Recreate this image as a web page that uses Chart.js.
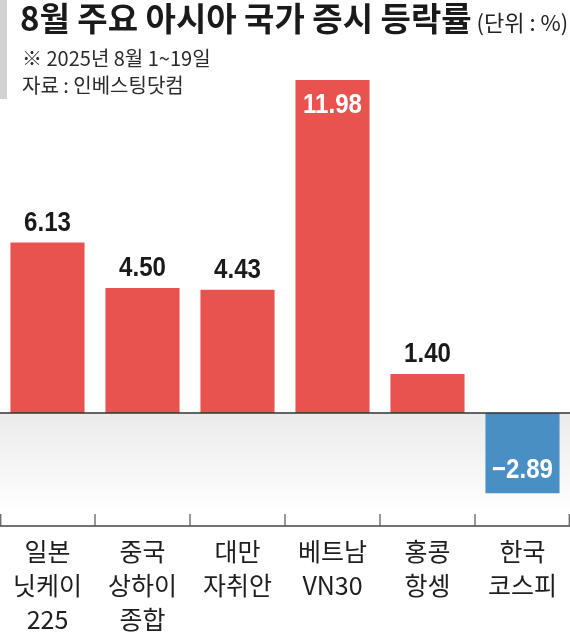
<!DOCTYPE html>
<html>
<head>
<meta charset="utf-8">
<script src="https://cdn.jsdelivr.net/npm/chart.js@4/dist/chart.umd.min.js"></script>
<style>
html,body{margin:0;padding:0;background:#fff;}
#wrap{width:570px;height:640px;position:relative;}
</style>
</head>
<body>
<div id="wrap"><canvas id="c" width="570" height="640"></canvas></div>
<script>
const categories = [
  ['일본', '닛케이', '225'],
  ['중국', '상하이', '종합'],
  ['대만', '자취안'],
  ['베트남', 'VN30'],
  ['홍콩', '항셍'],
  ['한국', '코스피']
];
const values = [6.13, 4.50, 4.43, 11.98, 1.40, -2.89];
const valueLabels = ['6.13', '4.50', '4.43', '11.98', '1.40', '−2.89'];
const titleText = '8월 주요 아시아 국가 증시 등락률';
const unitText = '(단위 : %)';
const noteText = '※ 2025년 8월 1~19일';
const sourceText = '자료 : 인베스팅닷컴';

const RED = '#e8534f';
const BLUE = '#4a8fc4';
const KFONT = '"Noto Sans CJK KR", "Noto Sans", sans-serif';

const decor = {
  id: 'decor',
  beforeDraw(chart) {
    const ctx = chart.ctx;
    ctx.save();
    ctx.fillStyle = '#fff';
    ctx.fillRect(0, 0, chart.width, chart.height);
    // left gray strip
    ctx.fillStyle = '#d2d2d2';
    ctx.fillRect(0, 0, 7, 99);
    // title
    ctx.fillStyle = '#1a1a1a';
    ctx.textBaseline = 'alphabetic';
    ctx.font = 'bold 33px ' + KFONT;
    ctx.fillText(titleText, 20, 31);
    const tw = ctx.measureText(titleText).width;
    ctx.font = '22px ' + KFONT;
    ctx.fillStyle = '#222';
    ctx.fillText(unitText, 20 + tw + 5, 31);
    ctx.font = '20px ' + KFONT;
    ctx.fillStyle = '#2a2a2a';
    ctx.fillText(noteText, 22, 66);
    ctx.fillText(sourceText, 22, 93);
    ctx.restore();
  },
  beforeDatasetsDraw(chart) {
    const ctx = chart.ctx;
    const area = chart.chartArea;
    const y0 = chart.scales.y.getPixelForValue(0);
    const yEnd = area.bottom - 12;
    const g = ctx.createLinearGradient(0, y0, 0, yEnd);
    g.addColorStop(0, '#ebebeb');
    g.addColorStop(1, 'rgba(255,255,255,1)');
    ctx.save();
    ctx.fillStyle = g;
    ctx.fillRect(area.left, y0, area.right - area.left, yEnd - y0);
    ctx.restore();
  },
  afterDatasetsDraw(chart) {
    const ctx = chart.ctx;
    const area = chart.chartArea;
    const xs = chart.scales.x;
    const y0 = chart.scales.y.getPixelForValue(0);
    ctx.save();
    // zero line
    ctx.strokeStyle = '#333';
    ctx.lineWidth = 1.5;
    ctx.beginPath();
    ctx.moveTo(area.left, y0);
    ctx.lineTo(area.right, y0);
    ctx.stroke();
    // bottom axis line
    ctx.strokeStyle = '#444';
    ctx.lineWidth = 1.5;
    ctx.beginPath();
    ctx.moveTo(area.left, area.bottom);
    ctx.lineTo(area.right, area.bottom);
    ctx.stroke();
    // tick marks at category boundaries
    ctx.lineWidth = 1.2;
    ctx.strokeStyle = '#555';
    const n = categories.length;
    const w = n > 1 ? (xs.getPixelForValue(1) - xs.getPixelForValue(0)) : (area.right - area.left);
    for (let i = 0; i <= n; i++) {
      let x = i < n ? xs.getPixelForValue(i) - w / 2 : xs.getPixelForValue(n - 1) + w / 2;
      x = Math.min(Math.max(x, area.left + 0.75), area.right - 0.75);
      ctx.beginPath();
      ctx.moveTo(x, area.bottom - 12);
      ctx.lineTo(x, area.bottom);
      ctx.stroke();
    }
    // value labels
    const meta = chart.getDatasetMeta(0);
    ctx.font = 'bold 28px "Liberation Sans", Arial, sans-serif';
    ctx.textAlign = 'center';
    ctx.textBaseline = 'alphabetic';
    const maxV = Math.max(...values);
    meta.data.forEach((bar, i) => {
      const v = values[i];
      let y, color;
      if (v < 0) {
        y = bar.y - 15;
        color = '#fff';
      } else if (v === maxV) {
        y = bar.y + 33;
        color = '#fff';
      } else {
        y = bar.y - 12;
        color = '#1a1a1a';
      }
      ctx.save();
      ctx.fillStyle = color;
      ctx.translate(bar.x, y);
      ctx.scale(0.86, 1);
      ctx.fillText(valueLabels[i], 0, 0);
      ctx.restore();
    });
    ctx.restore();
  }
};

new Chart(document.getElementById('c'), {
  type: 'bar',
  data: {
    labels: categories,
    datasets: [{
      data: values,
      backgroundColor: values.map(v => v < 0 ? BLUE : RED),
      borderWidth: 0,
      barPercentage: 0.78,
      categoryPercentage: 1
    }]
  },
  options: {
    responsive: false,
    animation: false,
    devicePixelRatio: 1,
    layout: { padding: { top: 78, bottom: 2, left: 0, right: 0 } },
    plugins: { legend: { display: false }, tooltip: { enabled: false }, title: { display: false } },
    scales: {
      y: { display: false, min: -4.065, max: 12.05 },
      x: {
        afterFit(scale) { scale.height = 112; },
        grid: { display: false, drawTicks: false },
        border: { display: false },
        ticks: {
          autoSkip: false,
          maxRotation: 0,
          padding: 8,
          color: '#1e1e1e',
          font: { family: KFONT, size: 25, lineHeight: 34 / 25 }
        }
      }
    }
  },
  plugins: [decor]
});
</script>
</body>
</html>
